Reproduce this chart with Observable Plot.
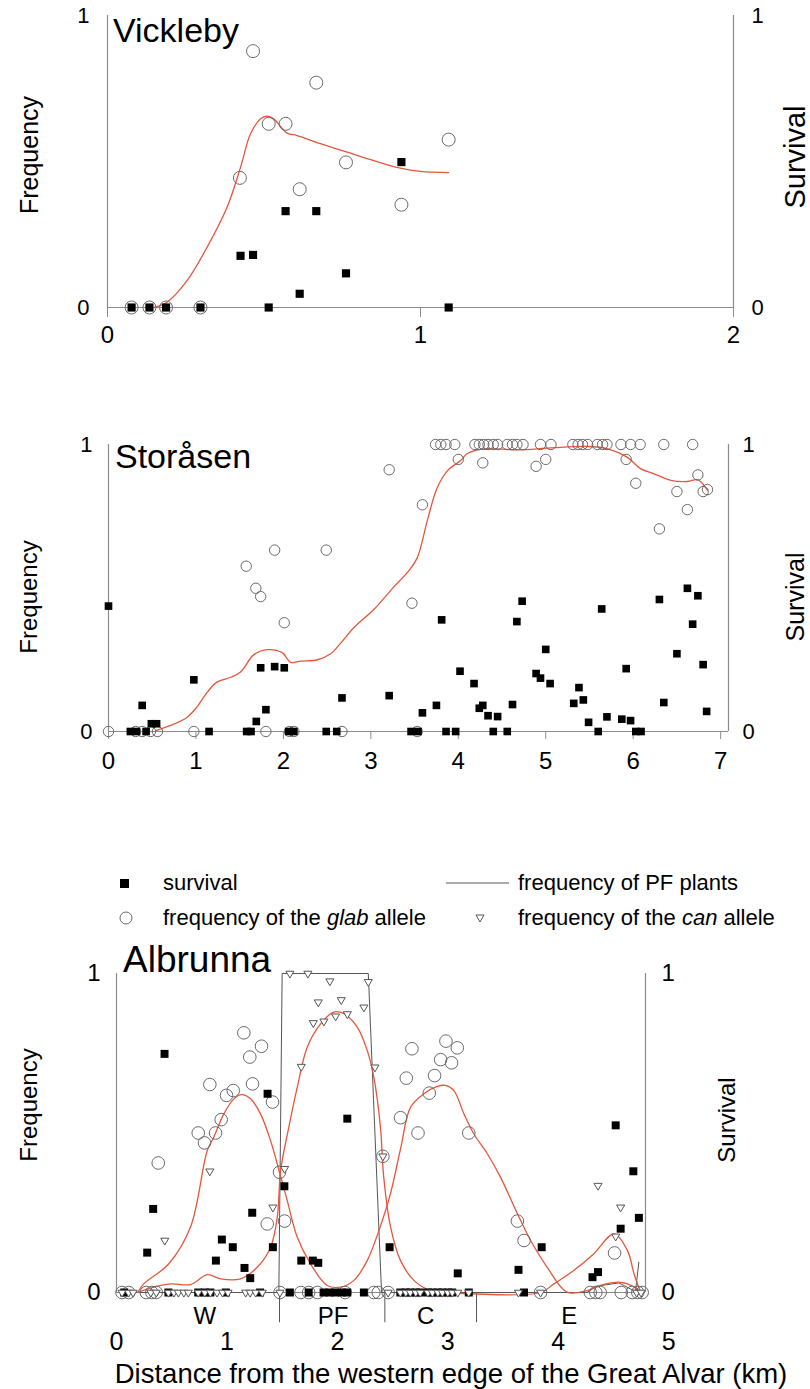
<!DOCTYPE html>
<html><head><meta charset="utf-8">
<script src="https://cdn.jsdelivr.net/npm/d3@7"></script>
<script src="https://cdn.jsdelivr.net/npm/@observablehq/plot@0.6"></script>
<style>
html,body{margin:0;padding:0;background:#fff;overflow:hidden;}
#root{position:relative;width:810px;height:1389px;overflow:hidden;font-family:"Liberation Sans",Arial,sans-serif;color:#000;}
.abs{position:absolute;white-space:nowrap;line-height:1;}
.rot{position:absolute;white-space:nowrap;line-height:1;transform:translate(-50%,-50%) rotate(-90deg);}
.panel{position:absolute;left:0;}
</style></head><body><div id="root"></div>
<script>
// ---------------- DATA ----------------
// Vickleby
const vickSurvival = [[0.077,0],[0.134,0],[0.187,0],[0.297,0],[0.425,0.177],[0.465,0.18],[0.515,0],[0.569,0.33],[0.614,0.047],[0.667,0.33],[0.762,0.117],[0.939,0.498],[1.09,0]];
const vickGlab = [[0.077,0],[0.134,0],[0.187,0],[0.297,0],[0.423,0.444],[0.465,0.878],[0.515,0.629],[0.569,0.629],[0.614,0.405],[0.667,0.77],[0.762,0.497],[0.939,0.352],[1.09,0.575]];
const vickCurve = [[0.148,0],[0.19,0.018],[0.254,0.092],[0.318,0.206],[0.382,0.343],[0.425,0.48],[0.457,0.595],[0.489,0.646],[0.51,0.655],[0.531,0.646],[0.574,0.597],[0.606,0.589],[0.68,0.561],[0.766,0.532],[0.851,0.503],[0.936,0.477],[1.0,0.466],[1.09,0.462]];

// Storåsen
const storSurvival = [[0.0,0.437],[0.385,0.091],[0.25,0],[0.32,0],[0.43,0],[0.49,0.027],[0.55,0.027],[0.976,0.18],[1.15,0],[1.58,0],[1.63,0],[1.69,0.035],[1.80,0.076],[1.74,0.222],[1.90,0.226],[2.01,0.222],[2.06,0],[2.12,0],[2.49,0],[2.61,0],[2.67,0.117],[3.21,0.125],[3.46,0],[3.54,0],[3.59,0.065],[3.75,0.091],[3.81,0.389],[3.86,0],[3.97,0],[4.02,0.21],[4.18,0.167],[4.24,0.081],[4.28,0.091],[4.34,0.055],[4.40,0],[4.45,0.052],[4.56,0],[4.62,0.094],[4.67,0.383],[4.73,0.454],[4.89,0.202],[4.94,0.186],[5.00,0.286],[5.05,0.167],[5.32,0.098],[5.38,0.153],[5.43,0.110],[5.49,0.032],[5.60,0],[5.64,0.427],[5.70,0.051],[5.87,0.043],[5.92,0.219],[5.97,0.038],[6.03,0],[6.09,0],[6.30,0.46],[6.35,0.101],[6.50,0.271],[6.62,0.499],[6.68,0.374],[6.74,0.473],[6.80,0.233],[6.84,0.07]];
const storGlab = [[0.0,0],[0.31,0],[0.385,0],[0.48,0],[0.56,0],[0.976,0],[1.80,0],[1.575,0.576],[1.685,0.499],[1.74,0.47],[1.90,0.632],[2.01,0.379],[2.07,0],[2.12,0],[2.49,0.632],[2.67,0],[3.21,0.912],[3.47,0.447],[3.53,0],[3.59,0.79],[3.74,1],[3.80,1],[3.86,1],[3.96,1],[4.0,0.948],[4.19,1],[4.24,1],[4.29,1],[4.34,1],[4.40,1],[4.45,1],[4.56,1],[4.62,1],[4.67,1],[4.74,1],[4.94,1],[5.06,1],[5.31,1],[5.37,1],[5.42,1],[5.48,1],[5.59,1],[5.65,1],[5.70,1],[5.86,1],[5.97,1],[6.08,1],[6.35,1],[6.68,1],[4.28,0.936],[4.89,0.924],[5.00,0.948],[5.92,0.948],[6.03,0.865],[6.30,0.706],[6.50,0.836],[6.62,0.773],[6.74,0.894],[6.80,0.836],[6.85,0.843]];
const storCurve = [[0.54,0.003],[0.71,0.021],[0.90,0.05],[1.01,0.085],[1.13,0.137],[1.24,0.172],[1.40,0.189],[1.51,0.207],[1.66,0.267],[1.82,0.285],[1.99,0.274],[2.08,0.241],[2.20,0.245],[2.39,0.25],[2.54,0.271],[2.65,0.306],[2.81,0.363],[3.04,0.427],[3.26,0.503],[3.42,0.555],[3.53,0.605],[3.65,0.74],[3.76,0.85],[3.88,0.91],[4.03,0.945],[4.10,0.968],[4.29,0.985],[4.68,0.981],[5.06,0.988],[5.48,0.993],[5.71,0.985],[5.93,0.956],[6.09,0.915],[6.24,0.898],[6.43,0.875],[6.62,0.871],[6.74,0.877],[6.85,0.84]];

// Albrunna
const albSurvival = [[0.435,0.748],[1.368,0.623],[2.09,0.545],[1.52,0.333],[0.332,0.262],[0.278,0.125],[1.229,0.25],[0.954,0.166],[1.053,0.142],[1.416,0.142],[0.9,0.1],[1.159,0.077],[1.211,0.045],[1.673,0.1],[1.778,0.1],[1.827,0.093],[2.473,0.142],[3.09,0.06],[3.64,0.071],[3.85,0.142],[4.31,0.048],[4.36,0.064],[4.565,0.2],[4.52,0.524],[4.68,0.38],[4.73,0.234],
  [0.07,0],[0.47,0],[0.74,0],[0.80,0],[0.85,0],[0.99,0],[1.30,0],[1.57,0],[1.74,0],[1.875,0],[1.93,0],[1.98,0],[2.04,0],[2.09,0],[2.24,0],[2.57,0],[2.62,0],[2.66,0],[2.71,0],[2.75,0],[2.82,0],[2.86,0],[2.91,0],[2.95,0],[3.0,0],[3.04,0],[3.19,0],[3.69,0]];
const albGlab = [[1.153,0.814],[1.313,0.772],[1.207,0.738],[0.845,0.652],[1.057,0.633],[0.996,0.618],[1.232,0.654],[1.413,0.597],[0.948,0.542],[0.897,0.5],[0.74,0.5],[0.797,0.469],[0.378,0.406],[1.476,0.377],[1.365,0.215],[1.522,0.224],[2.412,0.427],[2.572,0.548],[2.983,0.788],[3.086,0.767],[2.675,0.764],[2.935,0.73],[3.034,0.72],[2.88,0.68],[2.624,0.672],[2.832,0.625],[2.73,0.5],[3.19,0.5],[3.63,0.224],[3.69,0.163],[4.51,0.124],
  [0.05,0],[0.11,0],[0.27,0],[0.32,0],[0.36,0],[1.48,0],[1.67,0],[1.74,0],[1.82,0],[2.07,0],[2.33,0],[2.37,0],[2.46,0],[3.84,0],[4.29,0],[4.34,0],[4.38,0],[4.57,0],[4.67,0],[4.72,0],[4.76,0]];
const albCan = [[1.57,1.0],[1.733,1.0],[1.932,0.976],[2.28,0.974],[1.827,0.91],[2.035,0.917],[2.24,0.894],[1.782,0.845],[1.878,0.85],[1.984,0.866],[2.09,0.873],[1.673,0.708],[2.34,0.706],[0.845,0.38],[1.522,0.388],[2.412,0.427],[0.437,0.163],[1.416,0.267],[4.36,0.335],[4.565,0.267],[4.52,0.176],
  [0.05,0],[0.11,0],[0.15,0],[0.31,0],[0.36,0],[0.47,0],[0.52,0],[0.56,0],[0.61,0],[0.65,0],[0.74,0],[0.80,0],[0.85,0],[0.91,0],[0.96,0],[1.01,0],[1.17,0],[1.21,0],[1.26,0],[1.32,0],[1.48,0],[2.46,0],[2.57,0],[2.62,0],[2.66,0],[2.71,0],[2.75,0],[2.82,0],[2.86,0],[2.91,0],[2.95,0],[3.0,0],[3.04,0],[3.09,0],[3.19,0],[3.64,0],[3.84,0],[4.71,0],[4.75,0]];
const albGlabCurve = [[0.19,0.0],[0.247,0.027],[0.474,0.09],[0.67,0.205],[0.822,0.445],[0.881,0.487],[0.972,0.56],[1.063,0.607],[1.132,0.62],[1.214,0.607],[1.304,0.56],[1.395,0.476],[1.476,0.377],[1.546,0.288],[1.637,0.173],[1.757,0.09],[1.908,0.022],[2.03,0.017],[2.15,0.038],[2.27,0.1],[2.376,0.194],[2.48,0.309],[2.572,0.45],[2.663,0.581],[2.783,0.623],[2.905,0.646],[2.98,0.649],[3.055,0.633],[3.146,0.56],[3.236,0.497],[3.358,0.435],[3.478,0.361],[3.63,0.247],[3.75,0.163],[3.9,0.079],[4.08,0.001],[4.26,0.006],[4.38,0.022],[4.565,0.032],[4.686,0.017],[4.73,0.001]];
const albCanCurve = [[0.19,0.0],[0.338,0.017],[0.489,0.027],[0.67,0.025],[0.822,0.056],[0.942,0.043],[1.123,0.043],[1.274,0.079],[1.395,0.142],[1.456,0.236],[1.486,0.382],[1.56,0.518],[1.637,0.644],[1.727,0.769],[1.848,0.842],[1.968,0.879],[2.059,0.874],[2.18,0.832],[2.27,0.759],[2.33,0.675],[2.39,0.518],[2.42,0.361],[2.482,0.205],[2.572,0.1],[2.693,0.038],[2.844,0.006],[2.995,0.0],[3.84,0.0],[3.96,0.027],[4.14,0.069],[4.32,0.121],[4.505,0.184],[4.626,0.132],[4.686,0.059],[4.746,0.0]];
const albPF = [[0.05,0],[1.47,0],[1.50,1],[2.28,1],[2.40,0],[4.26,0],[4.35,0.02],[4.55,0.03],[4.66,0.01],[4.70,0.005],[4.73,0.095]];
const zoneBounds = [1.476, 2.43, 3.26];
const zoneNames = ["W","PF","C","E"];
const zoneCenters = [0.8, 1.96, 2.8, 4.1];
const ticks2 = [0,1,2], ticks7 = [0,1,2,3,4,5,6,7], ticks5 = [0,1,2,3,4,5];
const yTicks = [0,1];

// ---------------- STYLE ----------------
const RED = "#e4573d", AX = "#8c8c8c", CIRC = "#6a6a6a", TRI = "#555";
const FONT = "Liberation Sans, Arial, sans-serif";
const downTri = {draw(ctx, size){ const w = Math.sqrt(size*1.3), h = w*0.85; ctx.moveTo(-w/2,-h/3); ctx.lineTo(w/2,-h/3); ctx.lineTo(0,2*h/3); ctx.closePath(); }};
const X = d => d[0], Y = d => d[1];
const root = document.getElementById("root");

function add(el, top){ el.classList && el.classList.add("panel"); el.style.top = top+"px"; root.appendChild(el); }
function text(html, left, top, size, extra){ const d=document.createElement("div"); d.className="abs"; d.innerHTML=html; d.style.left=left+"px"; d.style.top=top+"px"; d.style.fontSize=size+"px"; if(extra) Object.assign(d.style, extra); root.appendChild(d); return d; }
function rot(html, cx, cy, size){ const d=document.createElement("div"); d.className="rot"; d.innerHTML=html; d.style.left=cx+"px"; d.style.top=cy+"px"; d.style.fontSize=size+"px"; root.appendChild(d); return d; }

function panel(o){
  const marks = [
    Plot.ruleY([0], {x1: 0, x2: o.xmax, stroke: AX, strokeWidth: 1.2}),
    Plot.ruleX([0], {y1: 0, y2: 1, stroke: AX, strokeWidth: 1.2}),
    Plot.ruleX([o.xmax], {y1: 0, y2: 1, stroke: AX, strokeWidth: 1.2}),
    Plot.axisX({ticks: o.xticks, tickFormat: d => d, tickSize: o.tickSize, tickPadding: o.tickPad, fontSize: o.xfs, stroke: AX, fill: "black", label: null}),
    Plot.axisY({anchor: "left", ticks: yTicks, tickFormat: d => d, tickSize: 0, tickPadding: o.yPadL, fontSize: o.yfs, fill: "black", label: null}),
    Plot.axisY({anchor: "right", ticks: yTicks, tickFormat: d => d, tickSize: 0, tickPadding: o.yPadR, fontSize: o.yfs, fill: "black", label: null}),
    ...o.extra,
  ];
  return Plot.plot({
    width: 810, height: o.height,
    marginLeft: o.ml, marginRight: o.mr, marginTop: o.mt, marginBottom: o.mb,
    x: {domain: [0, o.xmax]}, y: {domain: [0, 1]},
    style: {fontFamily: FONT, overflow: "visible", background: "transparent"},
    marks
  });
}

// Panel 1: Vickleby
add(panel({height: 345, ml: 107, mr: 77, mt: 15, mb: 38, xmax: 2, xticks: ticks2, tickSize: 10, tickPad: 8, xfs: 24, yfs: 22, yPadL: 18, yPadR: 18,
  extra: [
    Plot.line(vickCurve, {x: X, y: Y, stroke: RED, strokeWidth: 1.3, curve: "catmull-rom"}),
    Plot.dot(vickGlab, {x: X, y: Y, r: 6.5, stroke: CIRC, strokeWidth: 1, fill: "none"}),
    Plot.dot(vickSurvival, {x: X, y: Y, symbol: "square", r: 4.6, fill: "black"})
  ]}), 0);

// Panel 2: Storåsen
add(panel({height: 360, ml: 108, mr: 82, mt: 24, mb: 49, xmax: 7.09, xticks: ticks7, tickSize: 8, tickPad: 12, xfs: 24, yfs: 22, yPadL: 16, yPadR: 14,
  extra: [
    Plot.line(storCurve, {x: X, y: Y, stroke: RED, strokeWidth: 1.3, curve: "catmull-rom"}),
    Plot.dot(storGlab, {x: X, y: Y, r: 5.2, stroke: CIRC, strokeWidth: 1, fill: "none"}),
    Plot.dot(storSurvival, {x: X, y: Y, symbol: "square", r: 4.3, fill: "black"})
  ]}), 420);

// Panel 3: Albrunna
add(panel({height: 420, ml: 116, mr: 165, mt: 33, mb: 68, xmax: 4.79, xticks: ticks5, tickSize: 0, tickPad: 40, xfs: 25, yfs: 24, yPadL: 16, yPadR: 16,
  extra: [
    Plot.ruleX(zoneBounds, {y1: 0, y2: -0.095, stroke: "#555", strokeWidth: 1}),
    Plot.text(zoneNames, {x: (d,i) => zoneCenters[i], y: -0.075, text: d => d, fontSize: 24, fill: "black"}),
    Plot.line(albPF, {x: X, y: Y, stroke: "#555", strokeWidth: 1, curve: "linear"}),
    Plot.line(albGlabCurve, {x: X, y: Y, stroke: RED, strokeWidth: 1.3, curve: "catmull-rom"}),
    Plot.line(albCanCurve, {x: X, y: Y, stroke: RED, strokeWidth: 1.3, curve: "catmull-rom"}),
    Plot.dot(albGlab, {x: X, y: Y, r: 6.3, stroke: CIRC, strokeWidth: 1, fill: "none"}),
    Plot.dot(albSurvival, {x: X, y: Y, symbol: "square", r: 4.5, fill: "black"}),
    Plot.dot(albCan, {x: X, y: Y, symbol: downTri, r: 4, stroke: TRI, strokeWidth: 1, fill: "white"})
  ]}), 940);

// Titles
text("Vickleby", 113, 13, 34);
text("Storåsen", 115, 439, 34);
text("Albrunna", 123, 941, 37);

// Axis titles
rot("Frequency", 29, 155, 25);
rot("Survival", 795, 157, 29);
rot("Frequency", 29, 597, 24);
rot("Survival", 795, 597, 25);
rot("Frequency", 29, 1105, 24);
rot("Survival", 727, 1120, 24);

// Bottom label
text("Distance from the western edge of the Great Alvar (km)", 451, 1360, 27.5, {transform: "translateX(-50%)"});

// Legend
function legendSym(svg, left, cy){ const d=document.createElement("div"); d.className="abs"; d.style.left=left+"px"; d.style.top=(cy-10)+"px"; d.innerHTML=svg; root.appendChild(d); }
legendSym('<svg width="20" height="20"><rect x="6" y="6" width="9" height="9" fill="black"/></svg>', 114, 883);
legendSym('<svg width="20" height="20"><circle cx="10" cy="10" r="6" fill="none" stroke="'+CIRC+'" stroke-width="1"/></svg>', 116, 918);
legendSym('<svg width="66" height="20"><line x1="0" y1="10" x2="63" y2="10" stroke="#555" stroke-width="1"/></svg>', 446, 883);
legendSym('<svg width="20" height="20"><path d="M6,7 L14,7 L10,14 Z" fill="white" stroke="'+TRI+'" stroke-width="1"/></svg>', 470, 918);
text("survival", 163, 872, 22);
text("frequency of the <i>glab</i> allele", 163, 907, 22);
text("frequency of PF plants", 518, 872, 22);
text("frequency of the <i>can</i> allele", 518, 907, 22);
</script></body></html>
